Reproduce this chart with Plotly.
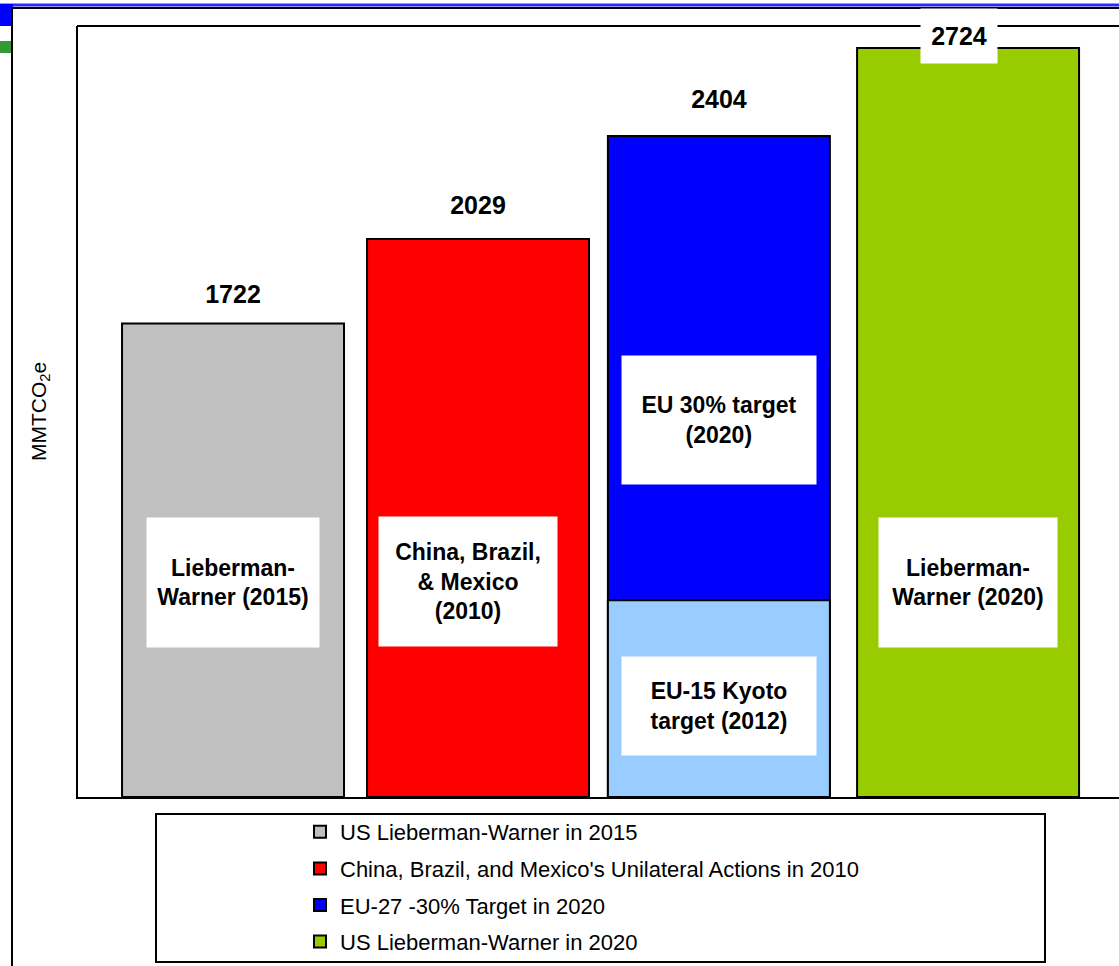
import plotly.graph_objects as go

# ---- data ----
series_names = [
    "US Lieberman-Warner in 2015",
    "China, Brazil, and Mexico's Unilateral Actions in 2010",
    "EU-27 -30% Target in 2020",
    "US Lieberman-Warner in 2020",
]
series_values = [1722, 2029, 2404, 2724]
bar_labels = [
    "Lieberman-<br>Warner (2015)",
    "China, Brazil,<br>& Mexico<br>(2010)",
    "EU 30% target<br>(2020)",
    "Lieberman-<br>Warner (2020)",
]
kyoto_name = "EU-15 Kyoto target (2012)"
kyoto_value = 716
kyoto_label = "EU-15 Kyoto<br>target (2012)"

# ---- styling ----
W, H = 1119, 966
colors = ["#C0C0C0", "#FF0000", "#0000FF", "#99CC00"]
kyoto_color = "#99CCFF"
FONT = "Liberation Sans, Arial, sans-serif"
bar_width = 0.906
bar_nudge = [0, 0, -0.017, 0]           # small horizontal nudge per bar
value_shift = [30, 34, 37, 12]          # label offset above each bar (px)
value_xshift = [0, 0, 0, -9]
label_box = [(170, 127), (176, 127), (192, 126), (176, 127)]
label_center_y = [780, 782, 1370, 780]  # in data units
label_dx = [0, -0.04, -0.017, 0]


def px_x(v):
    return v / W


def px_y(v):
    return 1 - v / H


fig = go.Figure()

for i, (name, val, col) in enumerate(zip(series_names, series_values, colors)):
    fig.add_trace(go.Bar(
        x=[i], y=[val], name=name, width=bar_width,
        offset=-bar_width / 2 + bar_nudge[i],
        marker=dict(color=col, line=dict(color="black", width=2)),
        legendgroup=f"g{i}", hoverinfo="name+y",
    ))

fig.add_trace(go.Bar(
    x=[2], y=[kyoto_value], name=kyoto_name, width=bar_width,
    offset=-bar_width / 2 + bar_nudge[2],
    marker=dict(color=kyoto_color, line=dict(color="black", width=2)),
    showlegend=False,
))

annotations = []
# value labels above bars
for i, val in enumerate(series_values):
    annotations.append(dict(
        x=i + bar_nudge[i], y=val, xref="x", yref="y", text=f"<b>{val}</b>",
        showarrow=False, yshift=value_shift[i], xshift=value_xshift[i],
        bgcolor="white", width=74, height=52,
        font=dict(family=FONT, size=25, color="black"),
    ))
# label boxes inside bars
for i, lab in enumerate(bar_labels):
    w, h = label_box[i]
    annotations.append(dict(
        x=i + label_dx[i], y=label_center_y[i], xref="x", yref="y",
        text=f"<b>{lab}</b>", showarrow=False, bgcolor="white",
        width=w, height=h, align="center",
        font=dict(family=FONT, size=23, color="black"),
    ))
annotations.append(dict(
    x=2 + label_dx[2], y=330, xref="x", yref="y", text=f"<b>{kyoto_label}</b>",
    showarrow=False, bgcolor="white", width=192, height=96,
    font=dict(family=FONT, size=23, color="black"),
))
# y axis title
annotations.append(dict(
    x=px_x(40), y=px_y(412), xref="paper", yref="paper",
    xanchor="center", yanchor="middle",
    text="MMTCO<sub>2</sub>e", textangle=-90, showarrow=False,
    font=dict(family=FONT, size=21, color="black"),
))

shapes = [
    # page frame decorations
    dict(type="line", xref="paper", yref="paper", x0=0, x1=1,
         y0=px_y(5), y1=px_y(5), line=dict(color="#2828FF", width=3)),
    dict(type="line", xref="paper", yref="paper", x0=px_x(11), x1=1,
         y0=px_y(8), y1=px_y(8), line=dict(color="black", width=2)),
    dict(type="rect", xref="paper", yref="paper", x0=0, x1=px_x(13),
         y0=px_y(4), y1=px_y(26), fillcolor="#0000FF", line=dict(width=0)),
    dict(type="rect", xref="paper", yref="paper", x0=0, x1=px_x(13),
         y0=px_y(41), y1=px_y(53), fillcolor="#339933", line=dict(width=0)),
    dict(type="line", xref="paper", yref="paper", x0=px_x(12), x1=px_x(12),
         y0=px_y(7), y1=0, line=dict(color="black", width=2)),
    # plot frame top edge
    dict(type="line", xref="paper", yref="paper", x0=px_x(77), x1=1,
         y0=px_y(26), y1=px_y(26), line=dict(color="black", width=2)),
    # legend frame
    dict(type="rect", xref="paper", yref="paper", x0=px_x(156), x1=px_x(1045),
         y0=px_y(814), y1=px_y(962), line=dict(color="black", width=2),
         fillcolor="rgba(0,0,0,0)"),
]

fig.update_layout(
    width=W, height=H,
    margin=dict(l=0, r=0, t=0, b=0),
    paper_bgcolor="white", plot_bgcolor="white",
    barmode="overlay",
    showlegend=True,
    legend=dict(
        x=px_x(300), y=px_y(811), xanchor="left", yanchor="top",
        font=dict(family=FONT, size=22, color="black"),
        bgcolor="rgba(0,0,0,0)", borderwidth=0,
        traceorder="grouped", tracegroupgap=5,
    ),
    xaxis=dict(
        domain=[px_x(78), 1], range=[-0.6327, 3.616],
        showticklabels=False, ticks="", showgrid=False, zeroline=False,
        showline=True, linecolor="black", linewidth=2,
    ),
    yaxis=dict(
        domain=[px_y(797), px_y(26)], range=[0, 2804],
        showticklabels=False, ticks="", showgrid=False, zeroline=False,
        showline=True, linecolor="black", linewidth=2,
    ),
    annotations=annotations,
    shapes=shapes,
    font=dict(family=FONT),
)

fig.write_html("out.html")
